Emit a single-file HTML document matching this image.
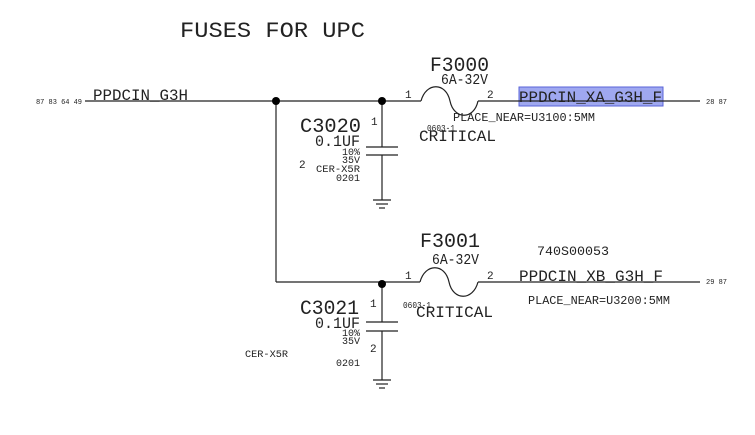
<!DOCTYPE html>
<html><head><style>
html,body{margin:0;padding:0;background:#fff;}
svg{display:block;}
text{font-family:"Liberation Mono",monospace;fill:#222;}
</style></head><body>
<svg width="755" height="435" viewBox="0 0 755 435" xmlns="http://www.w3.org/2000/svg">
<text x="180" y="37" font-size="22" textLength="185" lengthAdjust="spacingAndGlyphs">FUSES FOR UPC</text>
<!-- top net -->
<text x="36" y="104" font-size="7" fill="#777" textLength="46">87 83 64 49</text>
<text x="93" y="100" font-size="16" textLength="95" lengthAdjust="spacingAndGlyphs">PPDCIN_G3H</text>
<rect x="519" y="87" width="144" height="19" fill="#9fa8f0" stroke="#5a63d8" stroke-width="1"/>
<g stroke="#222" stroke-width="1.2" fill="none">
<line x1="85" y1="101" x2="421" y2="101"/>
<path d="M421 101 C426 82 446 82 450 101 C454 120 474 120 478 101"/>
<line x1="478" y1="101" x2="700" y2="101"/>
<line x1="276" y1="101" x2="276" y2="282"/>
<line x1="276" y1="282" x2="420" y2="282"/>
<path d="M420 282 C425 263 445 263 449 282 C453 301 473 301 478 282"/>
<line x1="478" y1="282" x2="700" y2="282"/>
<line x1="382" y1="101" x2="382" y2="147"/>
<line x1="366" y1="147" x2="398" y2="147"/>
<line x1="366" y1="155" x2="398" y2="155"/>
<line x1="382" y1="155" x2="382" y2="200"/>
<line x1="373" y1="200" x2="391" y2="200"/>
<line x1="376" y1="204" x2="388" y2="204"/>
<line x1="379" y1="208" x2="385" y2="208"/>
<line x1="382" y1="282" x2="382" y2="322"/>
<line x1="366" y1="322" x2="398" y2="322"/>
<line x1="366" y1="331" x2="398" y2="331"/>
<line x1="382" y1="331" x2="382" y2="380"/>
<line x1="373" y1="380" x2="391" y2="380"/>
<line x1="376" y1="384" x2="388" y2="384"/>
<line x1="379" y1="388" x2="385" y2="388"/>
</g>
<circle cx="276" cy="101" r="4" fill="#000"/>
<circle cx="382" cy="101" r="4" fill="#000"/>
<circle cx="382" cy="284" r="4" fill="#000"/>
<!-- F3000 -->
<text x="430" y="71" font-size="20" textLength="59" lengthAdjust="spacingAndGlyphs">F3000</text>
<text x="441" y="84" font-size="15" textLength="47" lengthAdjust="spacingAndGlyphs">6A-32V</text>
<text x="405" y="98" font-size="11">1</text>
<text x="487" y="98" font-size="11">2</text>
<text x="519" y="102" font-size="16" textLength="143" lengthAdjust="spacingAndGlyphs">PPDCIN_XA_G3H_F</text>
<text x="706" y="104" font-size="7" fill="#777">28 87</text>
<text x="453" y="121" font-size="12" textLength="142" lengthAdjust="spacingAndGlyphs">PLACE_NEAR=U3100:5MM</text>
<text x="427" y="131" font-size="9" textLength="28" lengthAdjust="spacingAndGlyphs">0603-1</text>
<text x="419" y="141" font-size="16" textLength="77" lengthAdjust="spacingAndGlyphs">CRITICAL</text>
<!-- C3020 -->
<text x="300" y="132" font-size="20" textLength="61" lengthAdjust="spacingAndGlyphs">C3020</text>
<text x="371" y="125" font-size="11">1</text>
<text x="315" y="146" font-size="16" textLength="45" lengthAdjust="spacingAndGlyphs">0.1UF</text>
<text x="342" y="155" font-size="10" textLength="18" lengthAdjust="spacingAndGlyphs">10%</text>
<text x="342" y="163" font-size="10" textLength="18" lengthAdjust="spacingAndGlyphs">35V</text>
<text x="316" y="172" font-size="10" textLength="44" lengthAdjust="spacingAndGlyphs">CER-X5R</text>
<text x="336" y="181" font-size="10" textLength="24" lengthAdjust="spacingAndGlyphs">0201</text>
<text x="299" y="168" font-size="11">2</text>
<!-- F3001 -->
<text x="420" y="247" font-size="20" textLength="60" lengthAdjust="spacingAndGlyphs">F3001</text>
<text x="432" y="264" font-size="15" textLength="47" lengthAdjust="spacingAndGlyphs">6A-32V</text>
<text x="537" y="255" font-size="13" textLength="72" lengthAdjust="spacingAndGlyphs">740S00053</text>
<text x="405" y="279" font-size="11">1</text>
<text x="487" y="279" font-size="11">2</text>
<text x="519" y="281" font-size="16" textLength="144" lengthAdjust="spacingAndGlyphs">PPDCIN_XB_G3H_F</text>
<text x="706" y="284" font-size="7" fill="#777">29 87</text>
<text x="528" y="304" font-size="12" textLength="142" lengthAdjust="spacingAndGlyphs">PLACE_NEAR=U3200:5MM</text>
<text x="403" y="308" font-size="9" textLength="28" lengthAdjust="spacingAndGlyphs">0603-1</text>
<text x="416" y="317" font-size="16" textLength="77" lengthAdjust="spacingAndGlyphs">CRITICAL</text>
<!-- C3021 -->
<text x="300" y="314" font-size="20" textLength="59" lengthAdjust="spacingAndGlyphs">C3021</text>
<text x="370" y="307" font-size="11">1</text>
<text x="315" y="328" font-size="16" textLength="45" lengthAdjust="spacingAndGlyphs">0.1UF</text>
<text x="342" y="336" font-size="10" textLength="18" lengthAdjust="spacingAndGlyphs">10%</text>
<text x="342" y="344" font-size="10" textLength="18" lengthAdjust="spacingAndGlyphs">35V</text>
<text x="370" y="352" font-size="11">2</text>
<text x="245" y="357" font-size="10" textLength="43" lengthAdjust="spacingAndGlyphs">CER-X5R</text>
<text x="336" y="366" font-size="10" textLength="24" lengthAdjust="spacingAndGlyphs">0201</text>
</svg>
</body></html>
